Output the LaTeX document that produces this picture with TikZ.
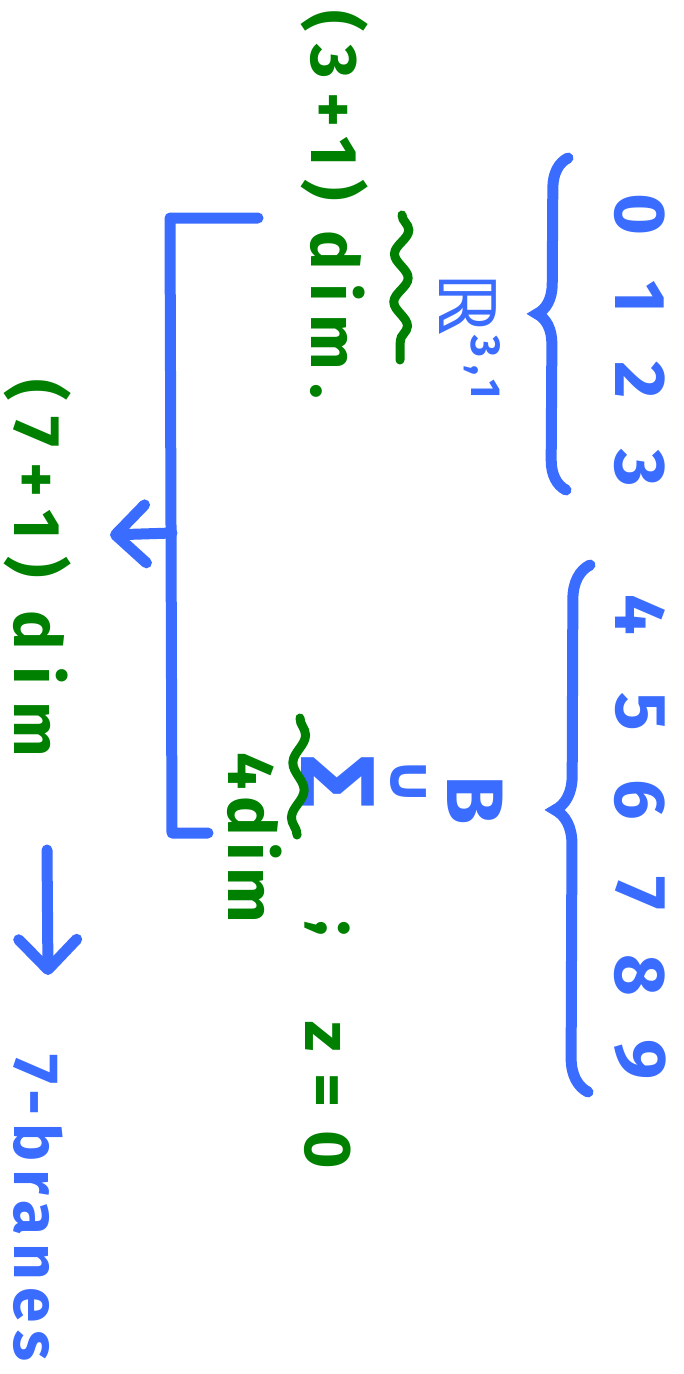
\documentclass[tikz,border=0pt]{standalone}
\usepackage{fontspec}
\setmainfont{Fira Sans}
\newfontfamily\djv{DejaVu Sans}
\usetikzlibrary{arrows.meta,decorations.pathreplacing,decorations.pathmorphing}
\definecolor{pen}{RGB}{58,108,255}
\definecolor{ink}{RGB}{0,128,0}
\begin{document}
\begin{tikzpicture}[x=1pt,y=-1pt,
  bluetxt/.style={text=pen,font=\fontsize{72}{80}\selectfont\bfseries,rotate=-90,inner sep=0pt},
  greentxt/.style={text=ink,font=\fontsize{66}{72}\selectfont\bfseries,rotate=-90,inner sep=0pt},
  stroke/.style={draw=pen,line width=11pt,line cap=round,line join=round},
  bracestroke/.style={draw=pen,line width=11pt,line cap=round,decorate},
  wave/.style={draw=ink,line width=9pt,line cap=round,decorate,decoration={snake,amplitude=7pt,segment length=48pt}},
  barb/.style={-{Straight Barb[length=30pt,width=58pt,line width=11pt,round]}}]
\useasboundingbox (0,0) rectangle (683,1374);
% top digit row
\node[bluetxt] (d0) at (640,215) {0};
\node[bluetxt] (d1) at (640,297) {1};
\node[bluetxt] (d2) at (640,380) {2};
\node[bluetxt] (d3) at (640,468) {3};
\node[bluetxt] (d4) at (640,615) {4};
\node[bluetxt] (d5) at (640,712) {5};
\node[bluetxt] (d6) at (640,800) {6};
\node[bluetxt] (d7) at (640,893) {7};
\node[bluetxt] (d8) at (640,975) {8};
\node[bluetxt] (d9) at (640,1060) {9};
% braces
\coordinate (braAbot) at (566,490);
\coordinate (braAtop) at (568,158);
\coordinate (braBbot) at (588,1092);
\coordinate (braBtop) at (590,565);
\draw[bracestroke,decoration={brace,amplitude=30pt,aspect=0.53}] (braAbot) -- (braAtop);
\draw[bracestroke,decoration={brace,amplitude=34pt,aspect=0.535}] (braBbot) -- (braBtop);
% R^{3,1}
\node[bluetxt] (R31) at (470,336) {{\djv\bfseries\fontsize{78}{80}\selectfont ℝ}\raisebox{0.45em}{\fontsize{42}{44}\selectfont\addfontfeature{LetterSpace=20}3,1}};
\coordinate (wAtop) at (402,215);
\coordinate (wAbot) at (400,360);
\draw[wave] (wAtop) -- (wAbot);
\node[greentxt,font=\fontsize{66}{72}\selectfont\bfseries\addfontfeature{LetterSpace=20}] (dim31) at (335,205) {(3+1) dim.};
% B contains Sigma
\node[bluetxt,font=\fontsize{80}{88}\selectfont\bfseries] (B) at (475,800) {B};
\node[bluetxt,font=\fontsize{62}{66}\selectfont\djv\bfseries] (cup) at (408,782) {∪};
\node[bluetxt,font=\fontsize{105}{110}\selectfont\bfseries] (Sig) at (338,782) {Σ};
\coordinate (wBtop) at (300,718);
\coordinate (wBbot) at (297,835);
\draw[wave,decoration={snake,amplitude=6pt,segment length=55pt}] (wBtop) -- (wBbot);
\node[greentxt,font=\fontsize{66}{72}\selectfont\bfseries\addfontfeature{LetterSpace=10}] (dim4) at (255,838) {4dim};
\node[greentxt] (semi) at (327,928) {;};
\node[greentxt,font=\fontsize{66}{72}\selectfont\bfseries\addfontfeature{LetterSpace=10}] (zeq) at (328,1095) {z = 0};
% bracket and arrows
\coordinate (bt) at (258,218);
\coordinate (tl) at (170,218);
\coordinate (bl) at (172,833);
\coordinate (bb) at (208,833);
\draw[stroke] (bt) -- (tl) -- (bl) -- (bb);
\coordinate (am) at (172,533);
\coordinate (arrEnd) at (110,535);
\draw[stroke,barb] (am) -- (arrEnd);
\node[greentxt,font=\fontsize{66}{72}\selectfont\bfseries\addfontfeature{LetterSpace=25}] (dim71) at (38,568) {(7+1) dim};
\coordinate (dTop) at (47,850);
\coordinate (dBot) at (48,975);
\draw[stroke,barb] (dTop) -- (dBot);
\node[bluetxt,font=\fontsize{64}{72}\selectfont\bfseries\addfontfeature{LetterSpace=12}] (branes) at (38,1208) {7-branes};
\end{tikzpicture}
\end{document}
